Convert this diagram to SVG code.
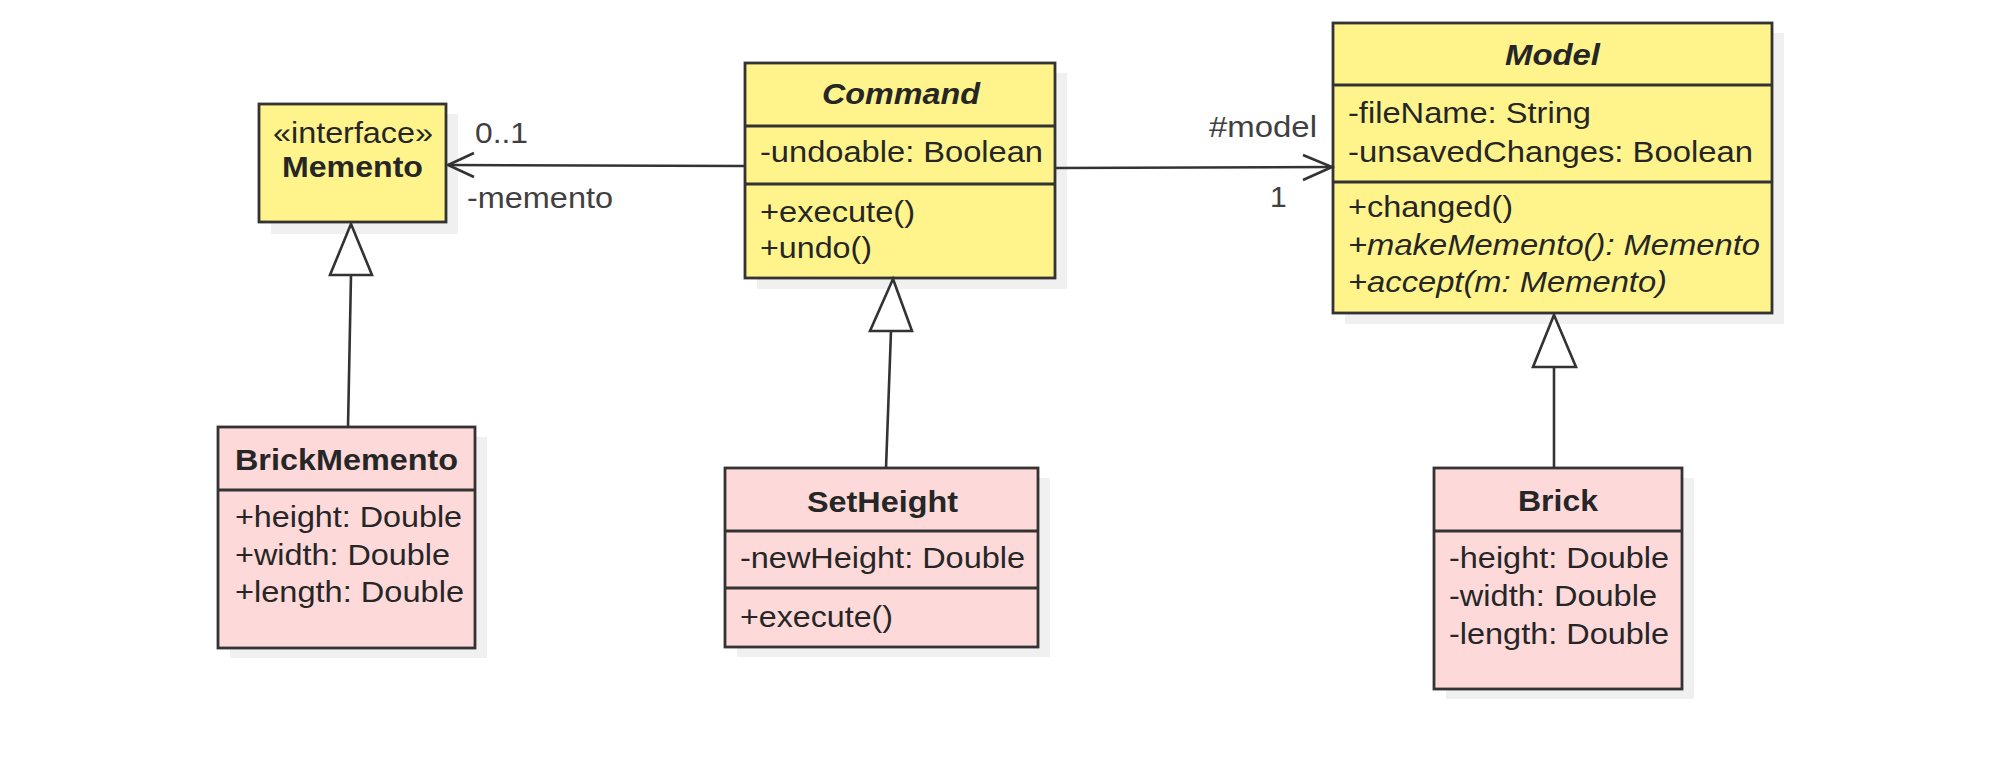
<svg xmlns="http://www.w3.org/2000/svg" width="1992" height="770" viewBox="0 0 1992 770">
<style>
.bg{fill:#ffffff}
.shadow{fill:#f0f0f0}
.y{fill:#fff48c;stroke:#333333;stroke-width:2.8}
.p{fill:#fed9d9;stroke:#333333;stroke-width:2.8}
.div{stroke:#333333;stroke-width:2.8;fill:none}
text{font-family:"Liberation Sans",Arial,sans-serif;font-size:30px;fill:#262626}
.t{font-weight:bold;text-anchor:middle}
.ti{font-weight:bold;font-style:italic;text-anchor:middle}
.c{text-anchor:middle}
.i{font-style:italic}
.lbl{fill:#404040}
.edge{stroke:#333333;stroke-width:2.6;fill:none}
.gen{fill:#ffffff;stroke:#333333;stroke-width:2.6;stroke-linejoin:miter}
</style>
<rect class="bg" x="0" y="0" width="1992" height="770"/>

<g id="shadows">
<rect class="shadow" x="271" y="114" width="187" height="120"/>
<rect class="shadow" x="757" y="73" width="310" height="216"/>
<rect class="shadow" x="1345" y="33" width="439" height="291"/>
<rect class="shadow" x="230" y="437" width="257" height="221"/>
<rect class="shadow" x="737" y="478" width="313" height="179"/>
<rect class="shadow" x="1446" y="478" width="248" height="221"/>
</g>

<g id="node-memento">
<rect class="y" x="259" y="104" width="187" height="118"/>
<text class="c" x="353" y="143" textLength="160" lengthAdjust="spacingAndGlyphs">«interface»</text>
<text class="t" x="352.5" y="177" textLength="141" lengthAdjust="spacingAndGlyphs">Memento</text>
</g>

<g id="node-command">
<rect class="y" x="745" y="63" width="310" height="215"/>
<line class="div" x1="745" y1="126" x2="1055" y2="126"/>
<line class="div" x1="745" y1="184" x2="1055" y2="184"/>
<text class="ti" x="901" y="104" textLength="158" lengthAdjust="spacingAndGlyphs">Command</text>
<text x="760" y="162" textLength="283" lengthAdjust="spacingAndGlyphs">-undoable: Boolean</text>
<text x="760" y="222" textLength="155" lengthAdjust="spacingAndGlyphs">+execute()</text>
<text x="760" y="258" textLength="112" lengthAdjust="spacingAndGlyphs">+undo()</text>
</g>

<g id="node-model">
<rect class="y" x="1333" y="23" width="439" height="290"/>
<line class="div" x1="1333" y1="85" x2="1772" y2="85"/>
<line class="div" x1="1333" y1="182" x2="1772" y2="182"/>
<text class="ti" x="1552.5" y="65" textLength="95" lengthAdjust="spacingAndGlyphs">Model</text>
<text x="1348" y="123" textLength="243" lengthAdjust="spacingAndGlyphs">-fileName: String</text>
<text x="1348" y="162" textLength="405" lengthAdjust="spacingAndGlyphs">-unsavedChanges: Boolean</text>
<text x="1348" y="217" textLength="165" lengthAdjust="spacingAndGlyphs">+changed()</text>
<text class="i" x="1348" y="255" textLength="412" lengthAdjust="spacingAndGlyphs">+makeMemento(): Memento</text>
<text class="i" x="1348" y="292" textLength="319" lengthAdjust="spacingAndGlyphs">+accept(m: Memento)</text>
</g>

<g id="node-brickmemento">
<rect class="p" x="218" y="427" width="257" height="221"/>
<line class="div" x1="218" y1="490" x2="475" y2="490"/>
<text class="t" x="346.5" y="470" textLength="223" lengthAdjust="spacingAndGlyphs">BrickMemento</text>
<text x="235" y="527" textLength="227" lengthAdjust="spacingAndGlyphs">+height: Double</text>
<text x="235" y="565" textLength="215" lengthAdjust="spacingAndGlyphs">+width: Double</text>
<text x="235" y="602" textLength="229" lengthAdjust="spacingAndGlyphs">+length: Double</text>
</g>

<g id="node-setheight">
<rect class="p" x="725" y="468" width="313" height="179"/>
<line class="div" x1="725" y1="531" x2="1038" y2="531"/>
<line class="div" x1="725" y1="588" x2="1038" y2="588"/>
<text class="t" x="882.5" y="512" textLength="151" lengthAdjust="spacingAndGlyphs">SetHeight</text>
<text x="740" y="568" textLength="285" lengthAdjust="spacingAndGlyphs">-newHeight: Double</text>
<text x="740" y="627" textLength="153" lengthAdjust="spacingAndGlyphs">+execute()</text>
</g>

<g id="node-brick">
<rect class="p" x="1434" y="468" width="248" height="221"/>
<line class="div" x1="1434" y1="531" x2="1682" y2="531"/>
<text class="t" x="1558" y="511" textLength="80" lengthAdjust="spacingAndGlyphs">Brick</text>
<text x="1449" y="568" textLength="220" lengthAdjust="spacingAndGlyphs">-height: Double</text>
<text x="1449" y="606" textLength="208" lengthAdjust="spacingAndGlyphs">-width: Double</text>
<text x="1449" y="644" textLength="220" lengthAdjust="spacingAndGlyphs">-length: Double</text>
</g>

<g id="connectors">
<line class="edge" x1="745" y1="166" x2="448" y2="165"/>
<polyline class="edge" points="474,153 448,165 474,177"/>
<text class="lbl" x="475" y="143" textLength="53" lengthAdjust="spacingAndGlyphs">0..1</text>
<text class="lbl" x="467" y="208" textLength="146" lengthAdjust="spacingAndGlyphs">-memento</text>

<line class="edge" x1="1055" y1="168" x2="1332" y2="167"/>
<polyline class="edge" points="1303,155 1332,167 1303,180"/>
<text class="lbl" x="1209" y="137" textLength="108" lengthAdjust="spacingAndGlyphs">#model</text>
<text class="lbl" x="1270" y="207">1</text>

<line class="edge" x1="348" y1="427" x2="351" y2="275"/>
<polygon class="gen" points="351,224 372,275 330,275"/>

<line class="edge" x1="886" y1="468" x2="891" y2="331"/>
<polygon class="gen" points="893,279 912,331 870,331"/>

<line class="edge" x1="1554" y1="468" x2="1554" y2="367"/>
<polygon class="gen" points="1554,315 1576,367 1533,367"/>
</g>
</svg>
